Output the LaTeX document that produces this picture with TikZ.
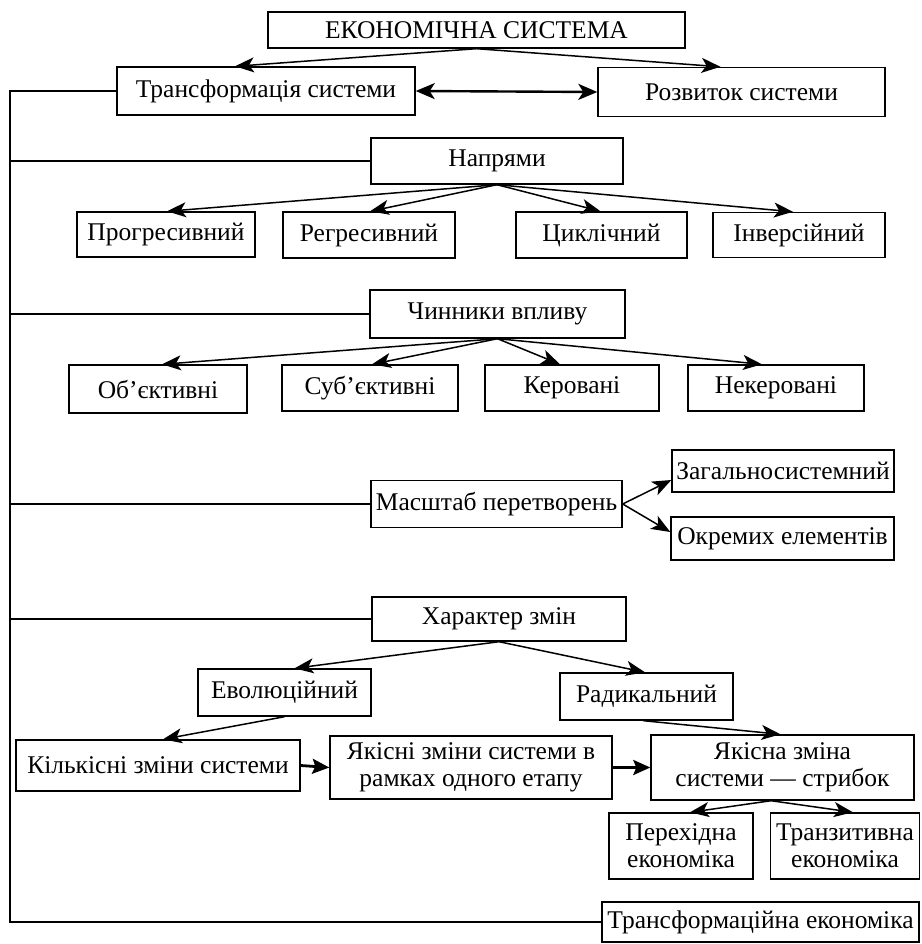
\documentclass[tikz,border=0pt]{standalone}
\usepackage{fontspec}
\setmainfont{Liberation Serif}
\usetikzlibrary{arrows.meta,calc}
\tikzset{
  box/.style={draw, line width=1.4pt, inner sep=0pt, align=center,
    font=\fontsize{25.5}{27}\selectfont},
  conn/.style={line width=1.4pt},
  arr/.style={line width=1.5pt, -{Stealth[length=19pt,width=15pt,inset=5pt]}},
  tarr/.style={line width=2.8pt, -{Stealth[length=17pt,width=15pt,inset=3pt]}},
  darr/.style={line width=2.4pt, {Stealth[length=19pt,width=16pt,inset=5pt]}-{Stealth[length=19pt,width=16pt,inset=5pt]}},
}
\newcommand{\bx}[6]{\node[box, minimum width=#4pt, minimum height=#5pt] (#1) at (#2,#3) {#6};}
\begin{document}
\begin{tikzpicture}[x=1pt,y=-1pt]
\useasboundingbox (0,0) rectangle (921,944);
\bx{eco}{476.5}{30}{417}{36}{ЕКОНОМІЧНА СИСТЕМА}
\bx{trans}{266}{91}{298}{48}{Трансформація системи}
\bx{rozv}{741.5}{92}{287}{49}{Розвиток системи}
\bx{napr}{497}{161}{252}{46}{Напрями}
\bx{prog}{166}{234.5}{178}{45}{Прогресивний}
\bx{regr}{369}{235}{172}{46}{Регресивний}
\bx{cykl}{601.5}{235}{171}{46}{Циклічний}
\bx{inv}{799}{235}{172}{45}{Інверсійний}
\bx{chyn}{497.5}{314}{255}{48}{Чинники впливу}
\bx{obj}{158}{389}{178}{48}{Об’єктивні}
\bx{subj}{370}{388}{176}{46}{Суб’єктивні}
\bx{ker}{572}{388}{174}{46}{Керовані}
\bx{nek}{776}{388}{176}{46}{Некеровані}
\bx{masht}{496.5}{504}{251}{47}{Масштаб перетворень}
\bx{zag}{783}{471}{222}{42}{Загальносистемний}
\bx{okr}{782.5}{538.5}{223}{43}{Окремих елементів}
\bx{khar}{499}{619}{254}{44}{Характер змін}
\bx{evol}{284.5}{692.5}{173}{47}{Еволюційний}
\bx{rad}{646.5}{696.5}{173}{47}{Радикальний}
\bx{kilk}{158}{765.5}{284}{51}{Кількісні зміни системи}
\bx{yakzm}{471}{767.5}{282}{63}{Якісні зміни системи в\\рамках одного етапу}
\bx{yakna}{782.5}{767.5}{263}{65}{Якісна зміна\\системи — стрибок}
\bx{perekh}{681}{846}{144}{66}{Перехідна\\економіка}
\bx{tranz}{845}{846}{149}{66}{Транзитивна\\економіка}
\bx{trek}{760.5}{922}{317}{40}{Трансформаційна економіка}
% left spine
\coordinate (ltop) at (10,91);
\coordinate (lbot) at (10,922);
\draw[conn] (trans.west) -- (ltop) -- (lbot) -- (trek.west);
\draw[conn] (napr.west) -- (napr.west -| ltop);
\draw[conn] (chyn.west) -- (chyn.west -| ltop);
\draw[conn] (masht.west) -- (masht.west -| ltop);
\draw[conn] (khar.west) -- (khar.west -| ltop);
% top
\draw[arr] (eco.south) -- ([xshift=-31pt]trans.north);
\draw[arr] (eco.south) -- ([xshift=-21pt]rozv.north);
\draw[darr] (trans.east) -- (rozv.west);
% directions
\draw[arr] (napr.south) -- ([xshift=1pt]prog.north);
\draw[arr] (napr.south) -- ([xshift=1pt]regr.north);
\draw[arr] (napr.south) -- ([xshift=-1pt]cykl.north);
\draw[arr] (napr.south) -- ([xshift=-6pt]inv.north);
% factors
\draw[arr] (chyn.south) -- ([xshift=4pt]obj.north);
\draw[arr] (chyn.south) -- ([xshift=2pt]subj.north);
\draw[arr] (chyn.south) -- ([xshift=-12pt]ker.north);
\draw[arr] (chyn.south) -- ([xshift=-14pt]nek.north);
% scale
\draw[arr] (masht.east) -- ([yshift=-9pt]zag.west);
\draw[arr] (masht.east) -- ([yshift=6.5pt]okr.west);
% character
\draw[arr] (khar.south) -- ([xshift=10pt]evol.north);
\draw[arr] (khar.south) -- ([xshift=-1.5pt]rad.north);
\draw[arr] (evol.south) -- ([xshift=5pt]kilk.north);
\draw[arr] ([xshift=-3pt]rad.south) -- ([xshift=-2pt]yakna.north);
\draw[tarr] (kilk.east) -- (yakzm.west);
\draw[tarr] (yakzm.east) -- (yakna.west);
\draw[arr] ([xshift=-11.5pt]yakna.south) -- ([xshift=9pt]perekh.north);
\draw[arr] ([xshift=-11.5pt]yakna.south) -- ([xshift=8pt]tranz.north);
\end{tikzpicture}
\end{document}
